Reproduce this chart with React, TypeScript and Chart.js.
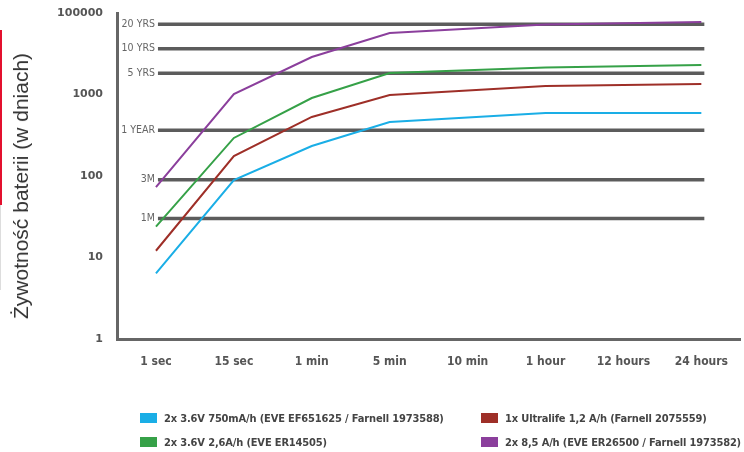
import React, { useEffect, useRef } from 'react';
import { Chart, registerables } from 'chart.js';

Chart.register(...registerables);

const categories = ['1 sec', '15 sec', '1 min', '5 min', '10 min', '1 hour', '12 hours', '24 hours'];

const seriesLabels = [
  '2x 3.6V 750mA/h (EVE EF651625 / Farnell 1973588)',
  '1x Ultralife 1,2 A/h (Farnell 2075559)',
  '2x 3.6V 2,6A/h (EVE ER14505)',
  '2x 8,5 A/h (EVE ER26500 / Farnell 1973582)',
];
const seriesColors = ['#1aaee6', '#9e2f28', '#36a148', '#8b3f9c'];

const blueValues = [6.4, 89, 233, 460, null, 593, null, 593];
const redValues = [12.1, 176, 530, 986, null, 1271, null, 1345];
const greenValues = [23.9, 293, 906, 1836, null, 2144, null, 2301];
const purpleValues = [73, 1014, 2884, 5686, null, 7210, null, 7762];

const yTickValues = [1, 10, 100, 1000, 10000];
const yTickLabels = ['1', '10', '100', '1000', '100000'];

const refLineValues = [30, 90, 365, 1825, 3650, 7300];
const refLineLabels = ['1M', '3M', '1 YEAR', '5 YRS', '10 YRS', '20 YRS'];

const yTitle = 'Żywotność baterii (w dniach)';

const CONDENSED = "'DejaVu Sans Condensed', 'DejaVu Sans', sans-serif";

const refLinesPlugin = {
  id: 'refLines',
  beforeDatasetsDraw(chart: any) {
    const { ctx, scales } = chart;
    const x = scales.x;
    const y = scales.y;
    const x0 = x.getPixelForValue(0);
    const x1 = x.getPixelForValue(categories.length - 1);
    ctx.save();
    refLineValues.forEach((v, i) => {
      const py = y.getPixelForValue(v);
      ctx.strokeStyle = '#5c5c5c';
      ctx.lineWidth = 3.5;
      ctx.beginPath();
      ctx.moveTo(x0 + 2, py);
      ctx.lineTo(x1 + 3, py);
      ctx.stroke();
      ctx.fillStyle = '#666';
      ctx.font = `10.5px ${CONDENSED}`;
      ctx.textAlign = 'right';
      ctx.textBaseline = 'middle';
      ctx.fillText(refLineLabels[i], x0 - 1, py);
    });
    ctx.restore();
  },
};

export default function App() {
  const canvasRef = useRef<HTMLCanvasElement | null>(null);

  useEffect(() => {
    if (!canvasRef.current) return;
    const values = [blueValues, redValues, greenValues, purpleValues];
    const chart = new Chart(canvasRef.current, {
      type: 'line',
      data: {
        labels: categories,
        datasets: values.map((d, i) => ({
          label: seriesLabels[i],
          data: d,
          borderColor: seriesColors[i],
          backgroundColor: seriesColors[i],
          borderWidth: 2,
          pointRadius: 0,
          tension: 0,
          spanGaps: true,
        })),
      },
      options: {
        animation: false,
        responsive: false,
        maintainAspectRatio: false,
        layout: { padding: { top: 13, left: 0, right: 0, bottom: 0 } },
        plugins: {
          legend: { display: false },
          tooltip: { enabled: false },
        },
        scales: {
          x: {
            type: 'category',
            offset: true,
            grid: { display: false, drawTicks: false },
            border: { display: true, color: '#666', width: 3 },
            ticks: {
              color: '#555',
              padding: 16,
              maxRotation: 0,
              autoSkip: false,
              font: { family: CONDENSED, weight: 'bold', size: 12 },
            },
            afterFit: (s: any) => {
              s.height = 113;
            },
          },
          y: {
            type: 'logarithmic',
            min: 1,
            max: 10000,
            afterBuildTicks: (s: any) => {
              s.ticks = yTickValues.map((v) => ({ value: v }));
            },
            afterFit: (s: any) => {
              s.width = 117;
              s.paddingTop = 7;
              s.paddingBottom = 7;
            },
            grid: { display: false, drawTicks: false },
            border: { display: true, color: '#666', width: 3 },
            ticks: {
              color: '#555',
              padding: 14,
              font: { family: "'DejaVu Sans', sans-serif", weight: 'bold', size: 11 },
              callback: (v: any) => {
                const idx = yTickValues.indexOf(Number(v));
                return idx >= 0 ? yTickLabels[idx] : '';
              },
            },
            title: { display: false },
          },
        },
      },
      plugins: [refLinesPlugin],
    });
    return () => chart.destroy();
  }, []);

  const legendPos = [
    { left: 140, top: 410 },
    { left: 481, top: 410 },
    { left: 140, top: 434 },
    { left: 481, top: 434 },
  ];

  return (
    <div style={{ position: 'absolute', left: 0, top: 0, width: 744, height: 452, background: '#fff', overflow: 'hidden' }}>
      <div style={{ position: 'absolute', left: 0, top: 30, width: 2, height: 175, background: '#e3102e' }} />
      <div style={{ position: 'absolute', left: 0, top: 205, width: 1, height: 85, background: '#ddd' }} />
      <canvas ref={canvasRef} width={744} height={452} style={{ position: 'absolute', left: 0, top: 0, width: 744, height: 452 }} />
      <div
        style={{
          position: 'absolute',
          left: 21,
          top: 186,
          transform: 'translate(-50%, -50%) rotate(-90deg)',
          whiteSpace: 'nowrap',
          fontFamily: "'Liberation Sans', Arial, sans-serif",
          fontSize: 21,
          lineHeight: '24px',
          color: '#333',
        }}
      >
        {yTitle}
      </div>
      {seriesLabels.map((lab, i) => (
        <div
          key={lab}
          style={{
            position: 'absolute',
            left: legendPos[i].left,
            top: legendPos[i].top,
            height: 16,
            display: 'flex',
            alignItems: 'center',
            whiteSpace: 'nowrap',
            fontFamily: CONDENSED,
            fontWeight: 'bold',
            fontSize: 11,
            letterSpacing: '-0.15px',
            color: '#444',
          }}
        >
          <span style={{ display: 'inline-block', width: 17, height: 10, background: seriesColors[i], marginRight: 7 }} />
          <span>{lab}</span>
        </div>
      ))}
    </div>
  );
}
